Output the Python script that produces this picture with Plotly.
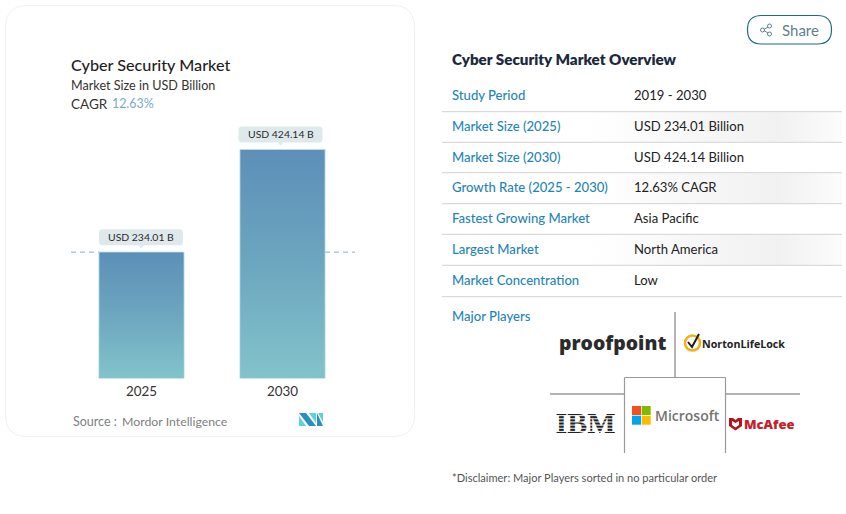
import plotly.graph_objects as go

# ---- data ----
years = ["2025", "2030"]
market_size = [234.01, 424.14]
bar_labels = ["USD 234.01 B", "USD 424.14 B"]
chart_title = "Cyber Security Market"
chart_subtitle = "Market Size in USD Billion"
cagr_text = "12.63%"
row_names = ["Study Period", "Market Size (2025)", "Market Size (2030)", "Growth Rate (2025 - 2030)",
             "Fastest Growing Market", "Largest Market", "Market Concentration"]
row_values = ["2019 - 2030", "USD 234.01 Billion", "USD 424.14 Billion", "12.63% CAGR",
              "Asia Pacific", "North America", "Low"]

FONT = "Lato"
BLUE = "#1f86ba"
INK = "#222222"
W, H = 846, 514
BASE_Y, TOP_Y = 378.5, 108.5
BAR_W = 0.603
x_pos = list(range(len(years)))

fig = go.Figure()

# real bars
fig.add_trace(go.Bar(x=x_pos, y=market_size, width=BAR_W, marker=dict(color="#7fb3c4", line=dict(color="#b4dfe4", width=1)),
                     hoverinfo="skip", showlegend=False))
# gradient fill on each bar, derived from the same values
for xp, v in zip(x_pos, market_size):
    h = BAR_W / 2 - 0.004
    fig.add_trace(go.Scatter(x=[xp - h, xp - h, xp + h, xp + h, xp - h], y=[0.8, v - 0.8, v - 0.8, 0.8, 0.8],
                             mode="lines", line=dict(width=0), fill="toself",
                             fillgradient=dict(type="vertical", colorscale=[[0, "#82c3cb"], [0.5, "#6da6bf"], [1, "#5d8fb8"]]),
                             hoverinfo="skip", showlegend=False))

def dec(**k):
    k.setdefault("xref", "x2"); k.setdefault("yref", "y2")
    return k

def rrect(x0, y0, x1, y1, r):
    return (f"M{x0+r},{y0} L{x1-r},{y0} Q{x1},{y0} {x1},{y0+r} L{x1},{y1-r} Q{x1},{y1} {x1-r},{y1} "
            f"L{x0+r},{y1} Q{x0},{y1} {x0},{y1-r} L{x0},{y0+r} Q{x0},{y0} {x0+r},{y0} Z")

shapes = []
ann = []

def text(x, y, s, size, color=INK, weight=None, anchor="left", font=FONT):
    f = dict(family=font, size=size, color=color)
    if weight: f["weight"] = weight
    ann.append(dict(xref="x2", yref="y2", x=x, y=y, text=s, showarrow=False, xanchor=anchor, yanchor="middle",
                    font=f, xshift=0, borderpad=0, borderwidth=0))

def line(x0, y0, x1, y1, color, width=1.0):
    shapes.append(dec(type="line", x0=x0, y0=y0, x1=x1, y1=y1, line=dict(color=color, width=width)))

def poly(pts, color, layer="above"):
    p = "M" + " L".join(f"{a},{b}" for a, b in pts) + " Z"
    shapes.append(dec(type="path", path=p, fillcolor=color, line=dict(width=0), layer=layer))

# card
shapes.append(dec(type="path", path=rrect(5.5, 5.5, 414.5, 436.5, 22), line=dict(color="#f0f1f2", width=1), layer="below"))

# dashed reference at first value: only outside the two bars
XR = 1.5142
for a, b in [(-0.5, x_pos[0] - BAR_W / 2), (x_pos[1] + BAR_W / 2, XR)]:
    shapes.append(dict(type="line", xref="x", yref="y", x0=a, x1=b, y0=market_size[0], y1=market_size[0],
                       line=dict(color="#86aecb", width=1, dash="5px,4px"), layer="below"))

# value pills anchored to data
for xp, v, lab, dx in zip(x_pos, market_size, bar_labels, (-0.5, -2)):
    shapes.append(dict(type="path", xref="x", yref="y", xsizemode="pixel", ysizemode="pixel", xanchor=xp, yanchor=v,
                       path=rrect(dx - 42, 7, dx + 42, 23, 3.5), fillcolor="#dfe9ec", line=dict(width=0)))
    shapes.append(dict(type="path", xref="x", yref="y", xsizemode="pixel", ysizemode="pixel", xanchor=xp, yanchor=v,
                       path=f"M{dx-3},7 L{dx},4 L{dx+3},7 Z", fillcolor="#dfe9ec", line=dict(width=0)))
    ann.append(dict(xref="x", yref="y", x=xp, y=v, text=lab, showarrow=False, xanchor="center", yanchor="middle",
                    xshift=dx, yshift=15, font=dict(family=FONT, size=10.4, color="#2a2a2a")))

# left texts
text(71, 64, chart_title, 16.2, "#1e1e1e", 500)
text(71, 85, chart_subtitle, 12.6, "#333333")
text(71, 103.5, "CAGR", 13.5, "#333333")
text(112, 103.5, cagr_text, 12.4, "#7aa9d0")
text(73, 421.5, "Source :", 12.5, "#808080")
text(122, 421.5, "Mordor Intelligence", 12.3, "#808080")

# M logo
poly([(299, 416), (306, 426), (299, 426)], "#5fd0dd")
poly([(299, 413), (306, 413), (316, 426), (309, 426)], "#2a8fc0")
poly([(309, 413), (316, 413), (316, 423)], "#5fd0dd")
poly([(317, 413), (323, 426), (317, 426)], "#2a8fc0")
poly([(318, 413), (323, 413), (323, 422)], "#5fd0dd")

# share button
shapes.append(dec(type="path", path=rrect(747.5, 15.5, 831.5, 44, 14), line=dict(color="#1f6a8a", width=1.2)))
text(782, 30, "Share", 15, "#5f7f90")
for a, b in [((763, 30), (769, 26.5)), ((763, 30), (769, 33.5))]:
    line(a[0], a[1], b[0], b[1], "#4c7488", 0.9)
for cx, cy in [(762.5, 30), (769.5, 26), (769.5, 34)]:
    shapes.append(dec(type="circle", x0=cx - 2, x1=cx + 2, y0=cy - 2, y1=cy + 2, fillcolor="white", line=dict(color="#4c7488", width=0.9)))

# overview table
text(452, 59, "Cyber Security Market Overview", 15.2, "#1c2a3c", 800)
row_lines = [111.7, 142.3, 172.7, 203.7, 234.3, 265.3, 296.7]
row_centers = [95, 126, 157, 187, 218, 249, 280]
for yl in row_lines:
    line(442, yl, 842, yl, "#d2d2d2", 1)
for n, v, yc in zip(row_names, row_values, row_centers):
    text(452, yc, n, 13.1, BLUE, 500)
    text(634, yc, v, 13.1, INK)

# shaded alternate rows
for y0, y1 in [(112.2, 141.8), (173.2, 203.2), (234.8, 264.8)]:
    fig.add_trace(go.Scatter(x=[590, 590, 842, 842, 590], y=[y0, y1, y1, y0, y0], xaxis="x2", yaxis="y2", mode="lines",
                             line=dict(width=0), fill="toself",
                             fillgradient=dict(type="horizontal", colorscale=[[0, "#ffffff"], [0.75, "#f1f1f1"], [1, "#fcfcfc"]]),
                             hoverinfo="skip", showlegend=False))

# major players
text(452, 316, "Major Players", 13.1, BLUE, 500)
text(452, 477, "*Disclaimer: Major Players sorted in no particular order", 11.05, "#555555")
GR = "#9a9a9a"
line(675, 312, 675, 377.5, GR, 1.5)
line(550, 394, 624.5, 394, GR, 1.5)
line(725.5, 394, 800, 394, GR, 1.5)
line(624.5, 377.5, 725.5, 377.5, GR, 1.2)
line(624.5, 377.5, 624.5, 453, GR, 1.2)
line(725.5, 377.5, 725.5, 453, GR, 1.2)

text(559, 342.5, "proofpoint", 19.4, "#2b2b2b", 800, font="Open Sans")
shapes.append(dec(type="circle", x0=685, x1=700, y0=335.5, y1=350.5, line=dict(color="#f2b01e", width=2.6), fillcolor="white"))
shapes.append(dec(type="path", path="M688,342 L692,347 L699,334", line=dict(color="#1d1d1d", width=2)))
text(702, 343.5, "NortonLifeLock", 10.7, "#222222", 700, font="Open Sans")

fig.add_trace(go.Scatter(x=[585.5], y=[425], xaxis="x2", yaxis="y2", mode="text", text=["IBM"],
                         textposition="middle center", textfont=dict(family="Liberation Serif", size=30, color="#222222", weight=700),
                         hoverinfo="skip", showlegend=False))
for i in range(1, 8):
    yy = 412.5 + i * 3.15
    line(552, yy, 620, yy, "#ffffff", 1.0)

for (x0, y0, c) in [(632, 406, "#f25022"), (641.7, 406, "#7fba00"), (632, 415.7, "#00a4ef"), (641.7, 415.7, "#ffb900")]:
    shapes.append(dec(type="rect", x0=x0, x1=x0 + 9, y0=y0, y1=y0 + 9, fillcolor=c, line=dict(width=0)))
text(655, 415, "Microsoft", 14, "#737373", 600, font="Open Sans")

poly([(729, 418), (733, 418), (735.5, 420), (738, 418), (742, 418), (742, 426), (735.5, 430.5), (729, 426)], "#b5121b")
poly([(732, 421), (735.5, 423), (739, 421), (739, 425), (735.5, 427.5), (732, 425)], "#ffffff")
text(744, 423.5, "McAfee", 13, "#c8202a", 800, font="Open Sans")

fig.update_layout(
    width=W, height=H, margin=dict(l=0, r=0, t=0, b=0), paper_bgcolor="white", plot_bgcolor="rgba(0,0,0,0)",
    showlegend=False, shapes=shapes, annotations=ann,
    xaxis=dict(domain=[71 / W, 355 / W], range=[-0.5, XR], tickvals=x_pos, ticktext=years, showgrid=False, zeroline=False,
               showline=False, ticks="", ticklabelstandoff=3, tickfont=dict(family=FONT, size=13.4, color="#333333"),
               anchor="y"),
    yaxis=dict(domain=[(H - BASE_Y) / H, (H - TOP_Y) / H], range=[0, 500], visible=False, anchor="x"),
    xaxis2=dict(domain=[0, 1], range=[0, W], visible=False, anchor="y2"),
    yaxis2=dict(domain=[0, 1], range=[H, 0], visible=False, anchor="x2"),
)

fig.write_html("out.html", config=dict(displayModeBar=False),
               post_script="document.body.style.margin='0';document.body.style.overflow='hidden';")
